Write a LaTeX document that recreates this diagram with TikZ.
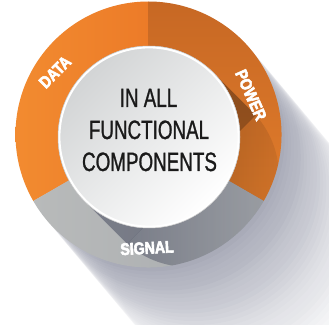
\documentclass[tikz,border=0pt]{standalone}
\usepackage{fontspec}
\setmainfont{Liberation Sans}
\newfontfamily\condfont{Liberation Sans}[FakeStretch=0.71, FakeBold=1]
\newfontfamily\condboldfont{Liberation Sans}[FakeStretch=0.84, FakeBold=3.5]
\usetikzlibrary{calc}
\definecolor{dataor}{HTML}{EC7B28}
\definecolor{dataorl}{HTML}{F28B30}
\definecolor{powtop}{HTML}{C76824}
\definecolor{powbot}{HTML}{E17C2B}
\definecolor{sigl}{HTML}{B8BABA}
\definecolor{sigr}{HTML}{A9ACAF}
\definecolor{shadowcol}{HTML}{6E7288}
\definecolor{innshad}{HTML}{ACAFBE}
\definecolor{discA}{HTML}{D2D4D5}
\definecolor{txtcol}{HTML}{1A1A1A}
\tikzset{
  maintext/.style={font=\condfont\fontsize{26.5}{32}\selectfont, text=txtcol, anchor=base, inner sep=0pt},
  ringlab/.style={font=\condboldfont\bfseries\fontsize{16.8}{18}\selectfont, text=white, inner sep=0pt}
}
\begin{document}
\begin{tikzpicture}[x=1pt,y=1pt]
\useasboundingbox (0,0) rectangle (329,324);
\coordinate (C) at (148.5,189.5);
\coordinate (I) at (149,187);
% long outer shadow: stacked translucent discs, fading with distance
\foreach \t in {0,5,...,150}{
  \pgfmathsetmacro{\op}{0.05*(1-\t/190)}
  \fill[shadowcol, fill opacity=\op] ($(C)+(-50:\t)$) circle (133);
}
% ring segments
\shade[left color=dataorl, right color=dataor] (C) -- ++(90:133) arc[start angle=90,end angle=210,radius=133] -- cycle;
\shade[top color=powtop, bottom color=powbot] (C) -- ++(-30:133) arc[start angle=-30,end angle=90,radius=133] -- cycle;
\shade[left color=sigl, right color=sigr] (C) -- ++(210:133) arc[start angle=210,end angle=330,radius=133] -- cycle;
% shadow of the disc on the ring
\begin{scope}
  \clip (C) circle (133);
  \begin{scope}[shift={(I)}, rotate=-45]
    \clip (0,91) arc[start angle=90,end angle=270,radius=91] -- (55,-91) arc[start angle=-90,end angle=90,radius=91] -- cycle;
    \shade[blend mode=multiply, left color=innshad, right color=white] (60,-100) rectangle (146,100);
    \fill[blend mode=multiply, innshad] (-100,-100) rectangle (60,100);
  \end{scope}
\end{scope}
% central disc
\shade[top color=discA, bottom color=white, shading angle=45] (I) circle (91);
\draw[white, line width=2.4pt] (I) circle (89.8);
\draw[black!22, line width=0.5pt] (I) circle (91);
% texts
\node[maintext] (l1) at (148.5,217) {IN ALL};
\node[maintext] (l2) at (149,185) {FUNCTIONAL};
\node[maintext] (l3) at (149.5,153) {COMPONENTS};
\node[ringlab, rotate=45] (data) at (55,252) {DATA};
\node[ringlab, rotate=-66] (power) at (251,229) {POWER};
\node[ringlab, rotate=3] (signal) at (147,76) {SIGNAL};
\end{tikzpicture}
\end{document}
